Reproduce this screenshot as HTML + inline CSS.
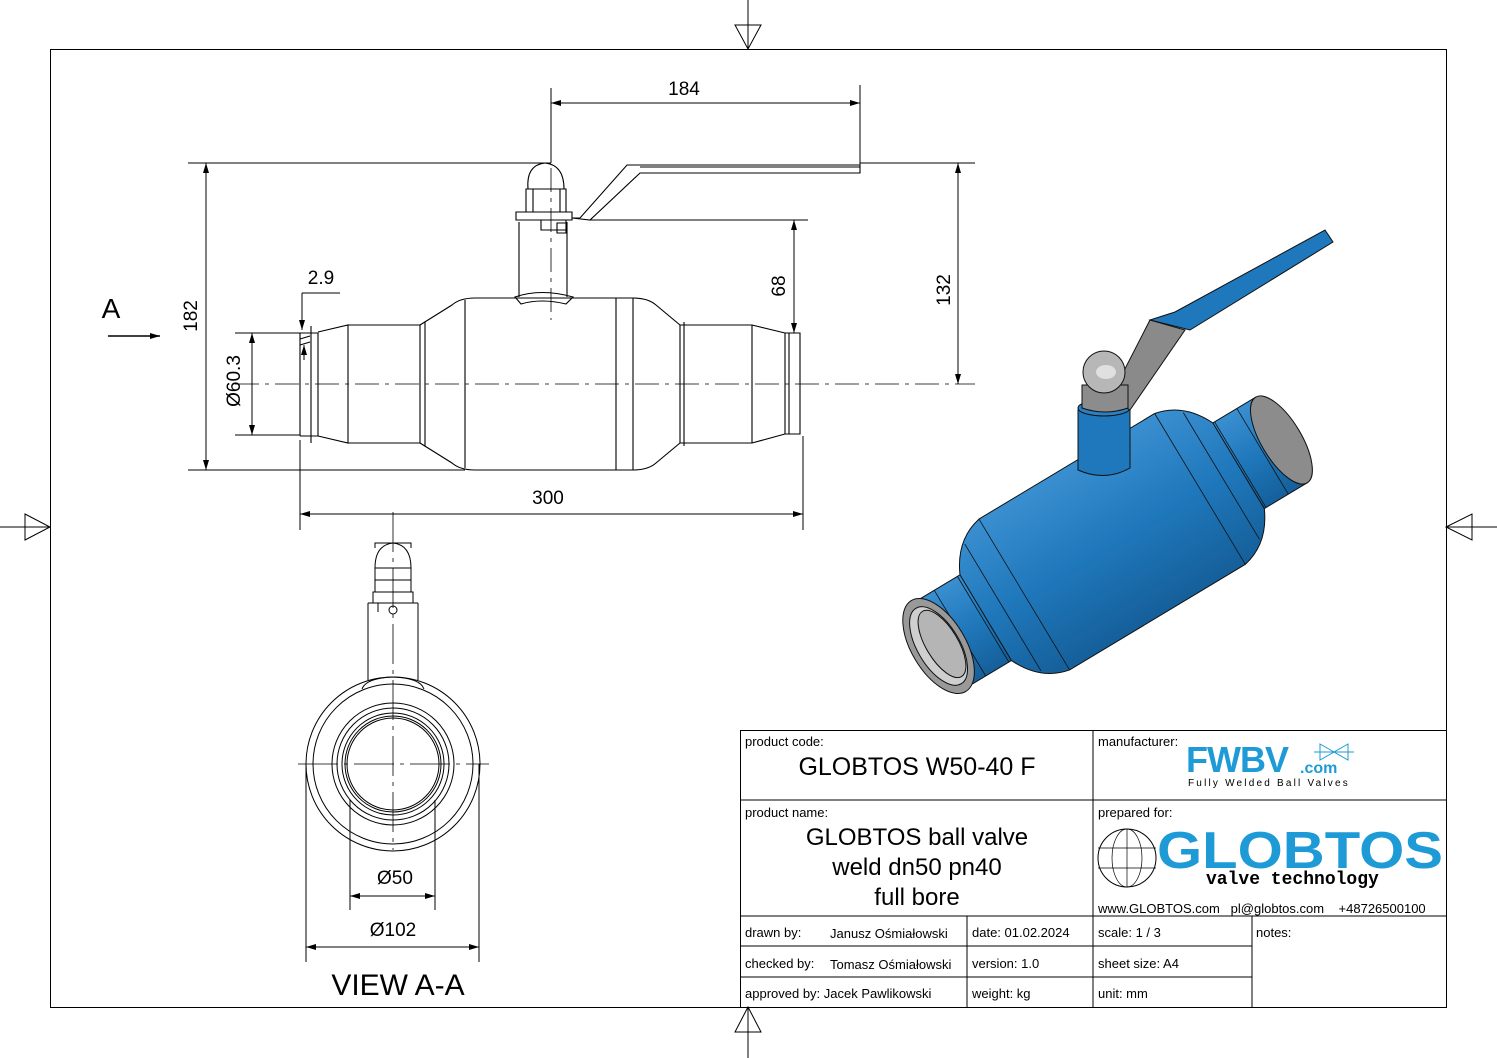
<!DOCTYPE html>
<html><head><meta charset="utf-8"><style>
html,body{margin:0;padding:0;background:#fff}
svg{display:block}
text{font-family:"Liberation Sans","DejaVu Sans",sans-serif;fill:#000}
</style></head><body>
<svg width="1497" height="1058" viewBox="0 0 1497 1058" xmlns="http://www.w3.org/2000/svg">
<defs>
<marker id="ar" viewBox="0 0 10 10" refX="10" refY="5" markerWidth="10" markerHeight="10" markerUnits="userSpaceOnUse" orient="auto-start-reverse"><path d="M0,2 L10,5 L0,8 z" fill="#000"/></marker>
<linearGradient id="bl" x1="0" y1="0" x2="0" y2="1"><stop offset="0" stop-color="#3a8fd0"/><stop offset="0.5" stop-color="#1f78bb"/><stop offset="1" stop-color="#155f9a"/></linearGradient>
</defs>
<g fill="none" stroke="#000" stroke-width="1">
<rect x="50.5" y="49.5" width="1396" height="958"/>
<path d="M748,0 V49 M735,25 L761,25 L748,49 Z M0,527 H50 M25,514 L25,540 L50,527 Z M1446,527 H1497 M1472,514 L1472,540 L1446,527 Z M748,1007 V1058 M735,1032 L761,1032 L748,1007 Z"/>

<g stroke-width="1.1">
<path d="M300,333 V436 M300,333 H318 V436 H300 M318,332 L348,325 V443 L318,436"/>
<path d="M348,325 H420 M348,443 H420 M420,325 V443 M425,322 V446"/>
<path d="M420,325 L452,305 Q460,298 475,298 H633 Q648,298 656,305 L680,325 M420,443 L452,463 Q460,470 475,470 H633 Q648,470 656,463 L680,443"/>
<path d="M465,300 V468 M633,298 V470 M616,298 V470"/>
<path d="M680,325 V443 M684,322 V446 M680,325 H752 M680,443 H752 M752,325 V443 M752,325 L785,333 V434 L752,443 M785,333 H800 V434 H785 M789,333 V434"/>
<path d="M311,326 V443 M300,345 L310,342 M300,339 L310,336"/>
<path d="M519,222 V297 M567,222 V297 M515,297 Q541,288 573,297 L566,304 Q541,298 521,304 Z"/>
<path d="M516,212 H572 V220 H516 Z M526,189 H566 V212 H526 Z M533,189 V212 M560,189 V212"/>
<path d="M528,189 Q526,165 545,163 Q564,165 564,189"/>
<path d="M541,220 V230 H566 V220 M557,223 H566 V233 H557 Z"/>
<path d="M572,218 L580,218 L627,165 H860 V173 H640 L590,220 Z"/>
<path d="M640,167 H860"/>
</g>
<path d="M235,384 H975" stroke-dasharray="24,6,4,6" stroke-width="0.8"/>
<path d="M551,88 V320" stroke-dasharray="24,6,4,6" stroke-width="0.8"/>

<path d="M551,88 V163 M860,85 V165"/>
<path d="M551,103 H860" marker-start="url(#ar)" marker-end="url(#ar)"/>
<path d="M188,163 H551 M188,470 H465"/>
<path d="M206,163 V470" marker-start="url(#ar)" marker-end="url(#ar)"/>
<path d="M860,163 H975"/>
<path d="M958,163 V384" marker-start="url(#ar)" marker-end="url(#ar)"/>
<path d="M590,220 H808"/>
<path d="M794,220 V333" marker-start="url(#ar)" marker-end="url(#ar)"/>
<path d="M235,333 H300 M235,435 H300"/>
<path d="M252,333 V435" marker-start="url(#ar)" marker-end="url(#ar)"/>
<path d="M300,440 V530 M803,436 V530"/>
<path d="M300,514 H803" marker-start="url(#ar)" marker-end="url(#ar)"/>
<path d="M302,293 H340 M302,293 V330" />
<path d="M302,308 V330" marker-end="url(#ar)"/>
<path d="M304,360 V345" marker-end="url(#ar)"/>
<path d="M108,336 H160" marker-end="url(#ar)" stroke-width="1.4"/>

<g stroke-width="1">
<circle cx="393" cy="764" r="87"/>
<circle cx="393" cy="764" r="80"/>
<circle cx="393" cy="764" r="61"/>
<circle cx="393" cy="764" r="56"/>
<circle cx="393" cy="764" r="51"/>
<circle cx="393" cy="764" r="48"/>
<circle cx="393" cy="764" r="46"/>
<path d="M368,603 V680 M418,603 V680 M362,689 Q366,678 393,677 Q420,678 424,689"/>
<path d="M368,603 H418 M378,603 V612 M373,592 H413 V603 H373 Z M375,568 H411 V592 H375 Z M375,580 H411"/>
<path d="M375,568 Q375,545 393,543 Q411,545 411,568 M375,548 V543 H411 V548"/>
<circle cx="393" cy="610" r="4"/>
<path d="M306,764 V962 M479,764 V962 M350,800 V910 M435,800 V910"/>
<path d="M350,896 H435" marker-start="url(#ar)" marker-end="url(#ar)"/>
<path d="M306,947 H479" marker-start="url(#ar)" marker-end="url(#ar)"/>
</g>
<path d="M393,512 V850" stroke-width="0.8" stroke-dasharray="40,6,4,6"/>
<path d="M298,764 H489" stroke-width="0.8" stroke-dasharray="40,6,4,6"/>

<rect x="740.5" y="730.5" width="706" height="277"/>
<path d="M1093,730 V1007 M740,800 H1446 M740,916 H1446 M740,946 H1252 M740,977 H1252 M967,916 V1007 M1252,916 V1007"/>
</g>

<!-- 3D view -->
<g transform="translate(1110,543) rotate(-31)" stroke="#111" stroke-width="1">
<rect x="-200" y="-50" width="400" height="100" fill="url(#bl)"/>
<path d="M-145,-50 Q-130,-82 -100,-88 H105 Q135,-82 150,-50 V50 Q135,82 105,88 H-100 Q-130,82 -145,50 Z" fill="url(#bl)"/>
<path d="M-100,-88 V88 M105,-88 V88 M-125,-74 V74 M130,-74 V74 M-148,-50 V50 M152,-50 V50 M-175,-50 V50 M178,-50 V50" fill="none" stroke-width="0.8"/>
<ellipse cx="200" cy="0" rx="20" ry="50" fill="#8c8c8c"/>
<ellipse cx="-200" cy="0" rx="27" ry="53" fill="#999"/>
<ellipse cx="-200" cy="0" rx="21" ry="44" fill="#cfcfcf"/>
<ellipse cx="-196" cy="0" rx="16" ry="38" fill="#b5b5b5"/>
</g>
<g stroke="#111" stroke-width="1">
<path d="M1078,410 V470 Q1105,482 1130,468 V405 Z" fill="#1f78bb"/>
<ellipse cx="1104" cy="408" rx="26" ry="8" fill="#2a80c2"/>
<path d="M1110,398 L1150,320 L1185,330 L1130,410 Z" fill="#8a8a8a"/>
<path d="M1150,320 L1175,312 L1325,230 L1333,242 L1190,330 Z" fill="#1f78bb"/>
<path d="M1082,385 H1128 V408 Q1105,416 1082,408 Z" fill="#8c8c8c"/>
<circle cx="1104" cy="372" r="21" fill="#b7b7b7"/>
<ellipse cx="1106" cy="372" rx="10" ry="7" fill="#e0e0e0" stroke="none"/>
</g>

<text x="684" y="95" font-size="19" text-anchor="middle">184</text>
<text x="548" y="504" font-size="19" text-anchor="middle">300</text>
<text x="321" y="284" font-size="19" text-anchor="middle">2.9</text>
<text x="111" y="318" font-size="28" text-anchor="middle">A</text>
<text transform="translate(197,316) rotate(-90)" font-size="19" text-anchor="middle">182</text>
<text transform="translate(950,290) rotate(-90)" font-size="19" text-anchor="middle">132</text>
<text transform="translate(785,286) rotate(-90)" font-size="19" text-anchor="middle">68</text>
<text transform="translate(240,381) rotate(-90)" font-size="19" text-anchor="middle">Ø60.3</text>
<text x="395" y="884" font-size="19" text-anchor="middle">Ø50</text>
<text x="393" y="936" font-size="19" text-anchor="middle">Ø102</text>
<text x="398" y="995" font-size="30" text-anchor="middle">VIEW A-A</text>

<text x="745" y="746" font-size="13">product code:</text>
<text x="917" y="775" font-size="25" text-anchor="middle">GLOBTOS W50-40 F</text>
<text x="745" y="817" font-size="13">product name:</text>
<text x="917" y="845" font-size="24" text-anchor="middle">GLOBTOS ball valve</text>
<text x="917" y="875" font-size="24" text-anchor="middle">weld dn50 pn40</text>
<text x="917" y="905" font-size="24" text-anchor="middle">full bore</text>
<text x="1098" y="746" font-size="13">manufacturer:</text>
<text x="1098" y="817" font-size="13">prepared for:</text>
<text x="1186" y="772" font-size="36" font-weight="bold" style="fill:#1e9ad6" letter-spacing="-1">FWBV</text>
<text x="1300" y="773" font-size="16" font-weight="bold" style="fill:#1e9ad6">.com</text>
<path d="M1320,744 L1334,752 L1320,760 Z M1348,744 L1334,752 L1348,760 Z M1314,752 H1354" fill="none" stroke="#1e9ad6"/>
<text x="1188" y="786" font-size="10" letter-spacing="2.2">Fully Welded Ball Valves</text>
<circle cx="1127" cy="858" r="29" fill="none" stroke="#000"/>
<ellipse cx="1127" cy="858" rx="15" ry="29" fill="none" stroke="#000" stroke-width="0.7"/>
<path d="M1098,848 H1156 M1098,868 H1156 M1127,829 V887" stroke="#000" stroke-width="0.7"/>
<text x="1157" y="868" font-size="52" font-weight="bold" style="fill:#1e9ad6" textLength="286" lengthAdjust="spacingAndGlyphs">GLOBTOS</text>
<text x="1206" y="884" font-size="18" font-weight="bold" style="font-family:'Liberation Mono',monospace">valve technology</text>
<text x="1098" y="913" font-size="13" xml:space="preserve">www.GLOBTOS.com   pl@globtos.com    +48726500100</text>
<text x="745" y="937" font-size="13">drawn by:</text>
<text x="830" y="938" font-size="13">Janusz Ośmiałowski</text>
<text x="972" y="937" font-size="13">date: 01.02.2024</text>
<text x="1098" y="937" font-size="13">scale: 1 / 3</text>
<text x="1256" y="937" font-size="13">notes:</text>
<text x="745" y="968" font-size="13">checked by:</text>
<text x="830" y="969" font-size="13">Tomasz Ośmiałowski</text>
<text x="972" y="968" font-size="13">version:  1.0</text>
<text x="1098" y="968" font-size="13">sheet size:  A4</text>
<text x="745" y="998" font-size="13">approved by: Jacek Pawlikowski</text>
<text x="972" y="998" font-size="13">weight:  kg</text>
<text x="1098" y="998" font-size="13">unit:  mm</text>
</svg>
</body></html>
